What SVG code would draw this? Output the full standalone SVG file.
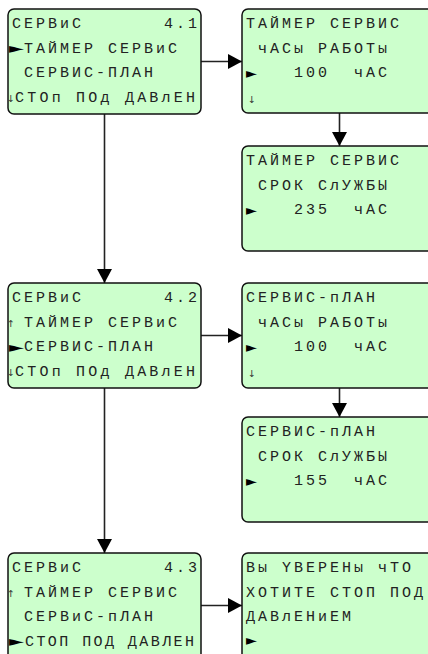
<svg xmlns="http://www.w3.org/2000/svg" width="428" height="654" viewBox="0 0 428 654">
<style>
.box{fill:#ccffcc;stroke:#111;stroke-width:1.5}
.t{font-family:"Liberation Mono",monospace;font-size:15px;letter-spacing:3px;fill:#222}
.p{font-family:"DejaVu Sans",sans-serif;font-size:14px;fill:#000}
.a{font-family:"DejaVu Sans",sans-serif;font-size:9.5px;fill:#333;text-anchor:middle}
.c{stroke:#222;stroke-width:1.6;fill:none}
</style>
<defs>
<marker id="ah" markerUnits="userSpaceOnUse" markerWidth="14" markerHeight="15" refX="14" refY="7.5" orient="auto"><path d="M0,0 L14,7.5 L0,15 z" fill="#000"/></marker>
</defs>
<rect width="428" height="654" fill="#fff"/>
<g id="connectors">
<path class="c" d="M201,61.5 H242" marker-end="url(#ah)"/>
<path class="c" d="M104.5,114 V283" marker-end="url(#ah)"/>
<path class="c" d="M339.5,113 V146" marker-end="url(#ah)"/>
<path class="c" d="M201,335.5 H242" marker-end="url(#ah)"/>
<path class="c" d="M339.5,388 V417" marker-end="url(#ah)"/>
<path class="c" d="M104.5,388 V553" marker-end="url(#ah)"/>
<path class="c" d="M201,605.5 H242" marker-end="url(#ah)"/>
</g>
<g id="menu41">
<rect class="box" x="8" y="9" width="193" height="105" rx="6"/>
<text class="t" x="12" y="28">СЕРВиС</text>
<text class="t" x="164" y="28">4.1</text>
<text class="p" x="9" y="53" textLength="15" lengthAdjust="spacingAndGlyphs">►</text>
<text class="t" x="24" y="52.5">ТАЙМЕР СЕРВиС</text>
<text class="t" x="24" y="77">СЕРВИС-ПЛАН</text>
<text class="a" x="11" y="102">↓</text>
<text class="t" x="15" y="101.5" textLength="183" lengthAdjust="spacing">СТОп ПОд ДАВлЕН</text>
</g>
<g id="menu42">
<rect class="box" x="8" y="283" width="193" height="105" rx="6"/>
<text class="t" x="12" y="302">СЕРВиС</text>
<text class="t" x="164" y="302">4.2</text>
<text class="a" x="11" y="327">↑</text>
<text class="t" x="24" y="326.5">ТАЙМЕР СЕРВиС</text>
<text class="p" x="9" y="352" textLength="15" lengthAdjust="spacingAndGlyphs">►</text>
<text class="t" x="24" y="351">СЕРВИС-ПЛАН</text>
<text class="a" x="11" y="376">↓</text>
<text class="t" x="15" y="375.5" textLength="183" lengthAdjust="spacing">СТОп ПОд ДАВлЕН</text>
</g>
<g id="menu43">
<rect class="box" x="8" y="553" width="193" height="120" rx="6"/>
<text class="t" x="12" y="572">СЕРВиС</text>
<text class="t" x="164" y="572">4.3</text>
<text class="a" x="11" y="597">↑</text>
<text class="t" x="24" y="596.5">ТАЙМЕР СЕРВИС</text>
<text class="t" x="24" y="621">СЕРВиС-пЛАН</text>
<text class="p" x="9" y="646" textLength="15" lengthAdjust="spacingAndGlyphs">►</text>
<text class="t" x="25" y="645.5" textLength="172" lengthAdjust="spacing">СТОП ПОД ДАВЛЕН</text>
</g>
<g id="timer-hours">
<rect class="box" x="242" y="9" width="200" height="104" rx="6"/>
<text class="t" x="246" y="28">ТАЙМЕР СЕРВИС</text>
<text class="t" x="258" y="53">чАСы РАБОТы</text>
<text class="p" x="246" y="78" textLength="11" lengthAdjust="spacingAndGlyphs">►</text>
<text class="t" x="294" y="77" xml:space="preserve">100  чАС</text>
<text class="a" x="252" y="103">↓</text>
</g>
<g id="timer-life">
<rect class="box" x="242" y="146" width="200" height="105" rx="6"/>
<text class="t" x="246" y="165">ТАЙМЕР СЕРВИС</text>
<text class="t" x="258" y="190">СРОК СлУЖБЫ</text>
<text class="p" x="246" y="215" textLength="11" lengthAdjust="spacingAndGlyphs">►</text>
<text class="t" x="294" y="214" xml:space="preserve">235  чАС</text>
</g>
<g id="plan-hours">
<rect class="box" x="242" y="283" width="200" height="105" rx="6"/>
<text class="t" x="246" y="302">СЕРВИС-пЛАН</text>
<text class="t" x="258" y="327">чАСы РАБОТы</text>
<text class="p" x="246" y="352" textLength="11" lengthAdjust="spacingAndGlyphs">►</text>
<text class="t" x="294" y="351" xml:space="preserve">100  чАС</text>
<text class="a" x="252" y="377">↓</text>
</g>
<g id="plan-life">
<rect class="box" x="242" y="417" width="200" height="105" rx="6"/>
<text class="t" x="246" y="436">СЕРВИС-пЛАН</text>
<text class="t" x="258" y="461">СРОК СлУЖБЫ</text>
<text class="p" x="246" y="486" textLength="11" lengthAdjust="spacingAndGlyphs">►</text>
<text class="t" x="294" y="485" xml:space="preserve">155  чАС</text>
</g>
<g id="stop-confirm">
<rect class="box" x="242" y="553" width="200" height="120" rx="6"/>
<text class="t" x="246" y="572">Вы YВЕРЕНы чТО</text>
<text class="t" x="246" y="596.5">ХОТИТЕ СТОП ПОД</text>
<text class="t" x="246" y="621">ДАВлЕНиЕМ</text>
<text class="p" x="246" y="645" textLength="11" lengthAdjust="spacingAndGlyphs">►</text>
</g>
</svg>
